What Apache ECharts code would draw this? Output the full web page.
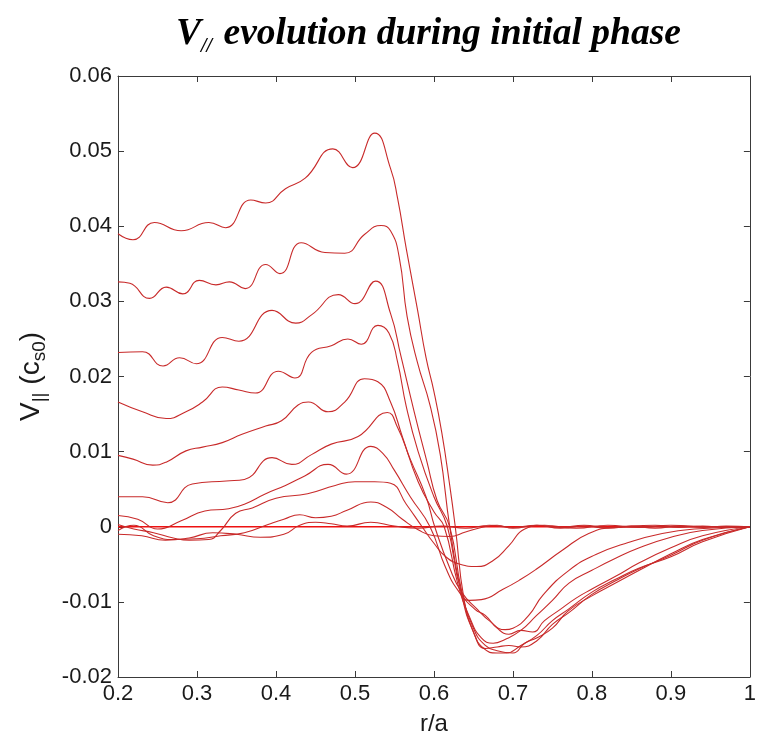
<!DOCTYPE html>
<html>
<head>
<meta charset="utf-8">
<script src="https://cdn.jsdelivr.net/npm/echarts@6/dist/echarts.min.js"></script>
<style>html,body{margin:0;padding:0;background:#fff;}#chart{width:759px;height:741px;}</style>
</head>
<body>
<div id="chart"></div>
<script>
// Axis ticks
const xTicks = [0.2, 0.3, 0.4, 0.5, 0.6, 0.7, 0.8, 0.9, 1.0];
const yTicks = [-0.02, -0.01, 0, 0.01, 0.02, 0.03, 0.04, 0.05, 0.06];

// Zero reference line
const c0x = [0.2, 1.0];
const c0y = [0, 0];

// Curves (r/a, V_par)
const c1x = [0.200,0.219,0.246,0.280,0.315,0.336,0.368,0.387,0.412,0.437,0.472,0.497,0.525,0.545,0.554,0.565,0.579,0.590,0.600,0.610,0.620,0.627,0.638,0.650,0.663,0.680,0.692,0.710,0.730,0.750,0.770,0.800,0.830,0.860,0.900,0.940,1.000];
const c1y = [0.0390,0.0382,0.0405,0.0394,0.0405,0.0398,0.0435,0.0431,0.0450,0.0464,0.0503,0.0478,0.0524,0.0477,0.0437,0.0370,0.0290,0.0225,0.0180,0.0125,0.0055,0.0000,-0.0096,-0.0140,-0.0162,-0.0168,-0.0168,-0.0158,-0.0145,-0.0125,-0.0110,-0.0087,-0.0070,-0.0055,-0.0040,-0.0020,0.0000];

const c2x = [0.200,0.215,0.240,0.261,0.282,0.303,0.324,0.341,0.361,0.387,0.405,0.432,0.462,0.487,0.512,0.533,0.545,0.556,0.566,0.579,0.595,0.608,0.620,0.635,0.650,0.665,0.680,0.695,0.710,0.730,0.750,0.770,0.800,0.830,0.860,0.900,0.940,1.000];
const c2y = [0.0326,0.0324,0.0304,0.0319,0.0310,0.0328,0.0322,0.0326,0.0317,0.0349,0.0337,0.0378,0.0365,0.0364,0.0389,0.0401,0.0394,0.0359,0.0280,0.0219,0.0162,0.0096,0.0000,-0.0090,-0.0140,-0.0162,-0.0160,-0.0158,-0.0160,-0.0152,-0.0130,-0.0115,-0.0090,-0.0072,-0.0056,-0.0038,-0.0018,0.0000];

const c3x = [0.200,0.231,0.257,0.278,0.299,0.332,0.353,0.395,0.425,0.445,0.479,0.500,0.526,0.545,0.558,0.575,0.591,0.604,0.620,0.635,0.650,0.665,0.680,0.700,0.715,0.730,0.750,0.770,0.800,0.830,0.860,0.900,0.940,1.000];
const c3y = [0.0232,0.0233,0.0214,0.0225,0.0217,0.0252,0.0247,0.0288,0.0271,0.0282,0.0309,0.0297,0.0327,0.0284,0.0228,0.0153,0.0087,0.0035,0.0000,-0.0085,-0.0135,-0.0158,-0.0165,-0.0168,-0.0155,-0.0148,-0.0135,-0.0112,-0.0092,-0.0075,-0.0058,-0.0036,-0.0017,0.0000];

const c4x = [0.200,0.231,0.261,0.286,0.307,0.332,0.353,0.374,0.403,0.424,0.445,0.470,0.491,0.508,0.529,0.543,0.554,0.565,0.580,0.600,0.617,0.635,0.652,0.665,0.680,0.695,0.710,0.725,0.740,0.760,0.780,0.800,0.830,0.860,0.900,0.940,1.000];
const c4y = [0.0166,0.0153,0.0144,0.0153,0.0166,0.0186,0.0182,0.0178,0.0207,0.0198,0.0232,0.0241,0.0250,0.0243,0.0268,0.0258,0.0219,0.0160,0.0100,0.0040,0.0000,-0.0087,-0.0110,-0.0118,-0.0135,-0.0143,-0.0138,-0.0140,-0.0125,-0.0110,-0.0095,-0.0083,-0.0066,-0.0048,-0.0028,-0.0012,0.0000];

const c5x = [0.200,0.219,0.244,0.261,0.286,0.307,0.332,0.357,0.387,0.407,0.428,0.441,0.466,0.487,0.512,0.529,0.545,0.560,0.580,0.600,0.613,0.630,0.645,0.660,0.675,0.690,0.710,0.730,0.750,0.771,0.800,0.830,0.860,0.900,0.940,1.000];
const c5y = [0.0095,0.0090,0.0082,0.0086,0.0101,0.0106,0.0112,0.0123,0.0134,0.0141,0.0162,0.0166,0.0153,0.0166,0.0197,0.0193,0.0166,0.0120,0.0060,0.0020,0.0000,-0.0075,-0.0120,-0.0148,-0.0155,-0.0150,-0.0138,-0.0118,-0.0098,-0.0075,-0.0058,-0.0042,-0.0028,-0.0014,-0.0005,0.0000];

const c6x = [0.200,0.231,0.263,0.294,0.337,0.360,0.395,0.420,0.445,0.470,0.504,0.541,0.554,0.570,0.590,0.601,0.620,0.635,0.655,0.670,0.690,0.700,0.720,0.738,0.771,0.805,0.846,0.889,0.930,1.000];
const c6y = [0.0040,0.0040,0.0032,0.0057,0.0061,0.0063,0.0092,0.0083,0.0096,0.0110,0.0120,0.0152,0.0132,0.0090,0.0040,0.0000,-0.0055,-0.0087,-0.0110,-0.0125,-0.0137,-0.0135,-0.0118,-0.0091,-0.0058,-0.0037,-0.0021,-0.0009,-0.0003,0.0000];

const c7x = [0.200,0.225,0.250,0.280,0.310,0.340,0.360,0.387,0.412,0.437,0.466,0.489,0.520,0.535,0.550,0.570,0.595,0.615,0.632,0.645,0.660,0.688,0.710,0.729,0.763,0.796,0.830,0.870,1.000];
const c7y = [0.0015,0.0010,-0.0003,0.0008,0.0021,0.0024,0.0030,0.0044,0.0055,0.0068,0.0083,0.0070,0.0107,0.0098,0.0075,0.0040,0.0000,-0.0055,-0.0087,-0.0098,-0.0097,-0.0083,-0.0070,-0.0057,-0.0031,-0.0009,-0.0001,0.0000,0.0000];

const c8x = [0.200,0.220,0.245,0.270,0.290,0.315,0.330,0.349,0.370,0.400,0.440,0.475,0.500,0.525,0.545,0.565,0.585,0.600,0.615,0.633,0.654,0.675,0.695,0.715,0.740,0.780,0.820,0.860,0.900,0.950,1.000];
const c8y = [0.0003,-0.0003,-0.0008,-0.0015,-0.0018,-0.0017,-0.0005,0.0018,0.0025,0.0038,0.0044,0.0055,0.0060,0.0060,0.0058,0.0030,0.0000,-0.0022,-0.0040,-0.0050,-0.0053,-0.0045,-0.0025,-0.0003,0.0002,-0.0002,0.0002,-0.0001,0.0002,0.0000,0.0000];

const c9x = [0.200,0.220,0.245,0.270,0.300,0.330,0.360,0.390,0.410,0.430,0.450,0.470,0.490,0.520,0.540,0.560,0.580,0.600,0.620,0.640,0.660,0.680,0.700,0.730,0.760,0.790,0.820,0.850,0.880,0.910,0.940,0.970,1.000];
const c9y = [-0.0005,0.0002,-0.0012,-0.0017,-0.0016,-0.0012,-0.0008,0.0003,0.0010,0.0016,0.0012,0.0014,0.0022,0.0033,0.0026,0.0010,-0.0004,-0.0012,-0.0013,-0.0007,-0.0001,0.0002,-0.0002,0.0002,-0.0001,0.0002,-0.0001,0.0001,-0.0002,0.0001,-0.0001,0.0001,0.0000];

const c10x = [0.200,0.230,0.260,0.290,0.320,0.350,0.380,0.410,0.430,0.450,0.470,0.490,0.520,0.550,0.580,0.610,0.640,0.670,0.700,0.730,0.760,0.790,0.820,0.850,0.880,0.910,0.940,0.970,1.000];
const c10y = [-0.0010,-0.0012,-0.0018,-0.0015,-0.0008,-0.0010,-0.0014,-0.0010,0.0002,0.0006,0.0004,0.0001,0.0006,0.0001,-0.0002,0.0001,-0.0002,0.0002,-0.0001,0.0002,-0.0002,0.0001,-0.0002,0.0001,0.0002,-0.0001,0.0001,-0.0001,0.0000];

const curves = [
  [c1x, c1y], [c2x, c2y], [c3x, c3y], [c4x, c4y], [c5x, c5y],
  [c6x, c6y], [c7x, c7y], [c8x, c8y], [c9x, c9y], [c10x, c10y]
];

const zip = (xs, ys) => xs.map((x, i) => [x, ys[i]]);

const series = curves.map(([xs, ys], i) => ({
  type: 'line',
  name: 'curve' + (i + 1),
  data: zip(xs, ys),
  smooth: 0.5,
  showSymbol: false,
  symbol: 'none',
  lineStyle: { color: '#c82a2a', width: 1.1 },
  silent: true,
  z: 3
}));
series.push({
  type: 'line',
  name: 'zero',
  data: zip(c0x, c0y),
  showSymbol: false,
  symbol: 'none',
  lineStyle: { color: '#ee1111', width: 1.3 },
  silent: true,
  z: 2
});

const axisColor = '#3a3a3a';
const labelFont = { fontFamily: 'Liberation Sans', fontSize: 22, color: '#1a1a1a' };

const fmtX = v => (Math.abs(v - 1) < 1e-9 ? '1' : v.toFixed(1));
const fmtY = v => (Math.abs(v) < 1e-9 ? '0' : v.toFixed(2));

const chart = echarts.init(document.getElementById('chart'), null, { renderer: 'canvas' });
chart.setOption({
  animation: false,
  backgroundColor: '#ffffff',
  grid: { left: 118, right: 4, top: 76, bottom: 55 },
  xAxis: [
    {
      type: 'value', min: xTicks[0], max: xTicks[xTicks.length - 1], interval: 0.1,
      position: 'bottom',
      axisLine: { show: true, onZero: false, lineStyle: { color: axisColor, width: 1 } },
      axisTick: { show: true, inside: true, length: 6, lineStyle: { color: axisColor } },
      splitLine: { show: false },
      axisLabel: Object.assign({ margin: 6, formatter: fmtX }, labelFont),
      name: 'r/a', nameLocation: 'middle', nameGap: 35,
      nameTextStyle: { fontFamily: 'Liberation Sans', fontSize: 24, color: '#1a1a1a' }
    },
    {
      type: 'value', min: xTicks[0], max: xTicks[xTicks.length - 1], interval: 0.1,
      position: 'top',
      axisLine: { show: true, onZero: false, lineStyle: { color: axisColor, width: 1 } },
      axisTick: { show: true, inside: true, length: 6, lineStyle: { color: axisColor } },
      splitLine: { show: false },
      axisLabel: { show: false }
    }
  ],
  yAxis: [
    {
      type: 'value', min: yTicks[0], max: yTicks[yTicks.length - 1], interval: 0.01,
      position: 'left',
      axisLine: { show: true, onZero: false, lineStyle: { color: axisColor, width: 1 } },
      axisTick: { show: true, inside: true, length: 6, lineStyle: { color: axisColor } },
      splitLine: { show: false },
      axisLabel: Object.assign({ margin: 6, formatter: fmtY }, labelFont),
      name: '{m|V}{s|||}{m| (c}{s|s0}{m|)}',
      nameLocation: 'middle', nameRotate: 90, nameGap: 72,
      nameTextStyle: {
        rich: {
          m: { fontFamily: 'Liberation Sans', fontSize: 28, color: '#1a1a1a', lineHeight: 30 },
          s: { fontFamily: 'Liberation Sans', fontSize: 19, color: '#1a1a1a', lineHeight: 19, padding: [18, 0, 0, 0] }
        }
      }
    },
    {
      type: 'value', min: yTicks[0], max: yTicks[yTicks.length - 1], interval: 0.01,
      position: 'right',
      axisLine: { show: true, onZero: false, lineStyle: { color: axisColor, width: 1 } },
      axisTick: { show: true, inside: true, length: 6, lineStyle: { color: axisColor } },
      splitLine: { show: false },
      axisLabel: { show: false }
    }
  ],
  graphic: [
    {
      type: 'text',
      left: 176, top: 11,
      style: {
        text: '{v|V}{s|//}{v| evolution during initial phase}',
        rich: {
          v: { fontFamily: 'Liberation Serif', fontStyle: 'italic', fontWeight: 'bold', fontSize: 37.5, fill: '#000', lineHeight: 42 },
          s: { fontFamily: 'Liberation Serif', fontStyle: 'italic', fontWeight: 'bold', fontSize: 20, fill: '#000', lineHeight: 20, padding: [26, 2, 0, 0] }
        }
      }
    }
  ],
  series: series
});
</script>
</body>
</html>
